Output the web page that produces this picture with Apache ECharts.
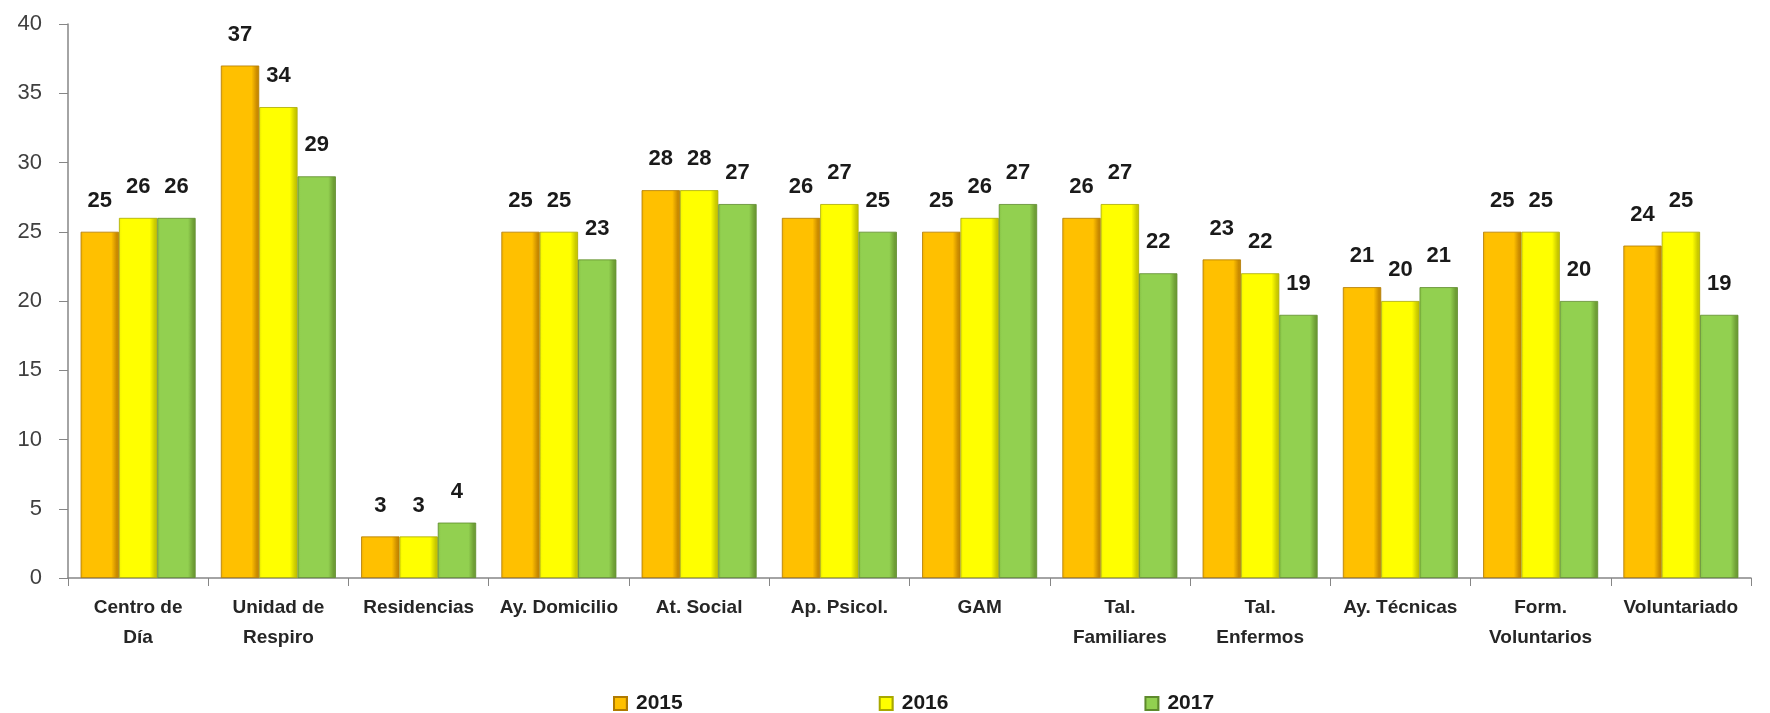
<!DOCTYPE html>
<html><head><meta charset="utf-8">
<script src="https://cdn.jsdelivr.net/npm/echarts@6/dist/echarts.min.js"></script>
<style>html,body{margin:0;padding:0;background:#fff}#c{width:1770px;height:713px}</style>
</head><body><div id="c"></div>
<script>
const categories = ["Centro de\nDía","Unidad de\nRespiro","Residencias","Ay. Domicilio","At. Social","Ap. Psicol.","GAM","Tal.\nFamiliares","Tal.\nEnfermos","Ay. Técnicas","Form.\nVoluntarios","Voluntariado"];
const seriesNames = ["2015","2016","2017"];
const v2015 = [25,37,3,25,28,26,25,26,23,21,25,24];
const v2016 = [26,34,3,25,28,27,26,27,22,20,25,25];
const v2017 = [26,29,4,23,27,25,27,22,19,21,20,19];
const yTicks = {min:0,max:40,interval:5};

function grad(edgeL, mid, edgeR){
  return new echarts.graphic.LinearGradient(0,0,1,0,[
    {offset:0,color:edgeL},{offset:0.08,color:mid},{offset:0.8,color:mid},{offset:0.94,color:edgeR},{offset:1,color:edgeR}
  ]);
}
const styles = [
  {color:grad('#f0b000','#ffc000','#c98a00'), border:'#b07a00'},
  {color:grad('#f2f200','#ffff00','#c9c900'), border:'#a8a800'},
  {color:grad('#86c244','#92d050','#6e9e35'), border:'#5e8a2c'}
];
const vals = [v2015,v2016,v2017];
const chart = echarts.init(document.getElementById('c'));
chart.setOption({
  animation:false,
  grid:{left:68,right:19,top:24,bottom:135,containLabel:false},
  legend:{
    data:seriesNames, left:608, top:688, itemWidth:13, itemHeight:13, itemGap:196,
    icon:'rect',
    textStyle:{fontFamily:'Liberation Sans',fontWeight:'bold',fontSize:21,color:'#1a1a1a',padding:[0,0,0,4]}
  },
  xAxis:{
    type:'category', data:categories,
    axisLine:{lineStyle:{color:'#868686',width:1.5}},
    axisTick:{show:true,length:8,lineStyle:{color:'#868686'}},
    axisLabel:{fontFamily:'Liberation Sans',fontWeight:'bold',fontSize:19,color:'#262626',lineHeight:30,margin:15,interval:0}
  },
  yAxis:{
    type:'value', min:yTicks.min, max:yTicks.max, interval:yTicks.interval,
    axisLine:{show:true,lineStyle:{color:'#868686',width:1.5}},
    axisTick:{show:true,length:9,lineStyle:{color:'#868686'}},
    splitLine:{show:false},
    axisLabel:{fontFamily:'Liberation Sans',fontSize:22,color:'#404040',margin:26}
  },
  series: seriesNames.map((n,i)=>({
    name:n, type:'bar', data:vals[i], barGap:'0%', barCategoryGap:'18%',
    itemStyle:{color:styles[i].color, borderColor:styles[i].border, borderWidth:0.8},
    label:{show:true,position:'top',distance:20,fontFamily:'Liberation Sans',fontWeight:'bold',fontSize:22,color:'#1a1a1a'}
  }))
});
</script></body></html>
